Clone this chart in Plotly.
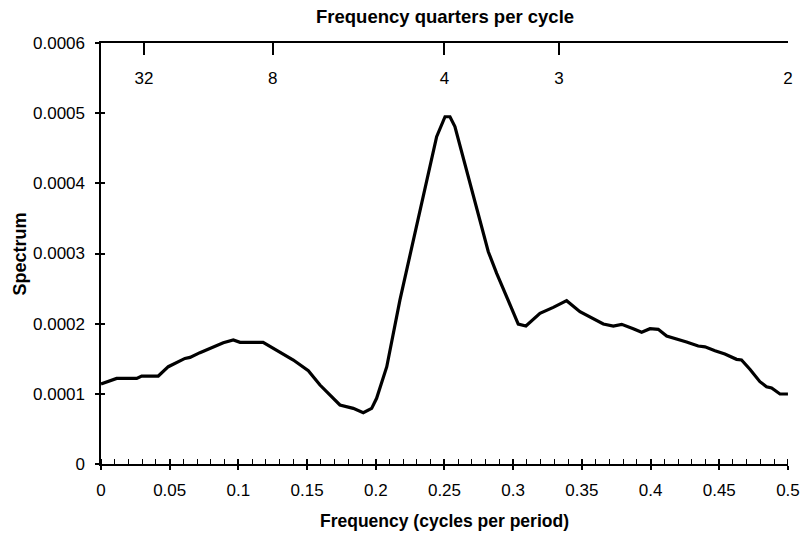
import plotly.graph_objects as go

# Valores
freq = [0.0, 0.003, 0.0114, 0.026, 0.0296, 0.0417, 0.049, 0.0611, 0.0648, 0.072,
        0.0805, 0.089, 0.0963, 0.1012, 0.118, 0.1303, 0.14, 0.1509, 0.1594, 0.1739,
        0.1836, 0.1909, 0.197, 0.2006, 0.208, 0.2176, 0.2273, 0.2346, 0.2443, 0.2504,
        0.254, 0.2576, 0.2661, 0.2758, 0.2819, 0.288, 0.2977, 0.3037, 0.3093, 0.3195,
        0.3292, 0.3389, 0.3486, 0.3559, 0.3656, 0.3729, 0.379, 0.3874, 0.3935, 0.3996,
        0.4056, 0.4117, 0.419, 0.4262, 0.4347, 0.4396, 0.4469, 0.4541, 0.4626, 0.4662,
        0.4723, 0.4796, 0.4844, 0.4881, 0.4942, 0.5]
espectro = [0.000114, 0.000116, 0.000122, 0.000122, 0.0001254, 0.0001254, 0.0001387, 0.0001505, 0.000152, 0.0001587,
            0.0001658, 0.0001729, 0.0001767, 0.0001734, 0.0001734, 0.00016, 0.0001482, 0.000133, 0.0001126, 0.0000841,
            0.0000793, 0.0000731, 0.0000793, 0.0000936, 0.0001387, 0.000234, 0.000319, 0.000381, 0.0004665, 0.000495,
            0.000495, 0.000481, 0.000419, 0.000348, 0.0003026, 0.0002718, 0.0002266, 0.0001995, 0.0001967, 0.0002148,
            0.0002233, 0.0002328, 0.000217, 0.000209, 0.0001995, 0.0001967, 0.0001991, 0.0001929, 0.0001877, 0.0001929,
            0.000192, 0.0001824, 0.0001786, 0.0001739, 0.0001682, 0.000167, 0.0001615, 0.0001568, 0.0001492, 0.0001482,
            0.000135, 0.0001173, 0.0001102, 0.0001083, 0.0000998, 0.0000998]

# Eixo inferior e eixo Y
x_ticks = [0, 0.05, 0.1, 0.15, 0.2, 0.25, 0.3, 0.35, 0.4, 0.45, 0.5]
x_ticks_txt = ["0", "0.05", "0.1", "0.15", "0.2", "0.25", "0.3", "0.35", "0.4", "0.45", "0.5"]
y_ticks = [0, 0.0001, 0.0002, 0.0003, 0.0004, 0.0005, 0.0006]
y_ticks_txt = ["0", "0.0001", "0.0002", "0.0003", "0.0004", "0.0005", "0.0006"]

# Eixo superior: períodos (trimestres por ciclo)
periodos = [32, 8, 4, 3, 2]
periodos_txt = ["32", "8", "4", "3", "2"]

FONTE = "Liberation Sans, Arial, sans-serif"
FONTE_TICKS = dict(family=FONTE, size=17, color="black")


def fonte_titulo(tam):
    return dict(family=FONTE, size=tam, color="black")


fig = go.Figure()
fig.add_trace(go.Scatter(
    x=freq, y=espectro, mode="lines",
    line=dict(color="black", width=3.2),
    showlegend=False, hoverinfo="skip",
))

# faixas um pouco maiores que o último tick, senão o plotly descarta o tick da ponta
eixo_x = dict(range=[0, 0.50004], showgrid=False, zeroline=False, automargin=False,
              fixedrange=True, ticklabeloverflow="allow", tickfont=FONTE_TICKS)
eixo_y = dict(range=[0, 0.0006001], showgrid=False, zeroline=False, automargin=False,
              fixedrange=True, ticklabeloverflow="allow", tickfont=FONTE_TICKS)

fig.update_layout(
    width=804, height=533,
    paper_bgcolor="white", plot_bgcolor="white",
    font=dict(family=FONTE, size=17, color="black"),
    margin=dict(l=101, r=16, t=43, b=69),
    xaxis=dict(
        **eixo_x,
        showline=True, linecolor="black", linewidth=1.5,
        ticks="outside", tickcolor="black", ticklen=4, tickwidth=1.5,
        tickvals=x_ticks, ticktext=x_ticks_txt, ticklabelstandoff=6,
        minor=dict(ticks="inside", tickvals=[i / 100 for i in range(51)], ticklen=5,
                   tickcolor="black", tickwidth=1),
    ),
    xaxis3=dict(
        **eixo_x, overlaying="x", anchor="y",
        showline=False, ticks="inside", tickcolor="black", ticklen=5, tickwidth=1.5,
        tickvals=x_ticks, showticklabels=False,
    ),
    xaxis2=dict(
        **eixo_x, overlaying="x", side="top", anchor="y",
        showline=True, linecolor="black", linewidth=1.5,
        ticks="inside", tickcolor="black", ticklen=12, tickwidth=1.5,
        tickvals=[1 / p for p in periodos], ticktext=periodos_txt,
        ticklabelposition="inside", ticklabelstandoff=18,
    ),
    # rótulos do eixo Y ficam no eixo auxiliar (o principal escondia o 0.0006)
    yaxis=dict(
        **eixo_y,
        showline=True, linecolor="black", linewidth=1.5,
        ticks="outside", tickcolor="black", ticklen=4, tickwidth=1.5,
        tickvals=y_ticks, showticklabels=False,
    ),
    yaxis2=dict(
        **eixo_y, overlaying="y", anchor="x",
        showline=False, ticks="inside", tickcolor="black", ticklen=4, tickwidth=1.5,
        tickvals=y_ticks, ticktext=y_ticks_txt, ticklabelposition="outside",
        ticklabelstandoff=15,
    ),
    annotations=[
        dict(text="<b>Frequency quarters per cycle</b>", xref="paper", yref="paper",
             x=0.5, y=1.062, showarrow=False, font=fonte_titulo(18.5), yanchor="middle"),
        dict(text="<b>Frequency (cycles per period)</b>", xref="paper", yref="paper",
             x=0.5, y=-0.135, showarrow=False, font=fonte_titulo(17.5), yanchor="middle"),
        dict(text="<b>Spectrum</b>", xref="paper", yref="paper", textangle=-90,
             x=-0.118, y=0.5, showarrow=False, font=fonte_titulo(18), xanchor="center"),
    ],
)

# Traços invisíveis para ativar os eixos auxiliares
fig.add_trace(go.Scatter(x=[None], y=[None], xaxis="x2", yaxis="y", showlegend=False))
fig.add_trace(go.Scatter(x=[None], y=[None], xaxis="x3", yaxis="y2", showlegend=False))

# tira a margem padrão do body para a figura ocupar a janela inteira
fig.write_html("out.html", config={"displayModeBar": False},
               post_script="document.body.style.margin='0px';")
